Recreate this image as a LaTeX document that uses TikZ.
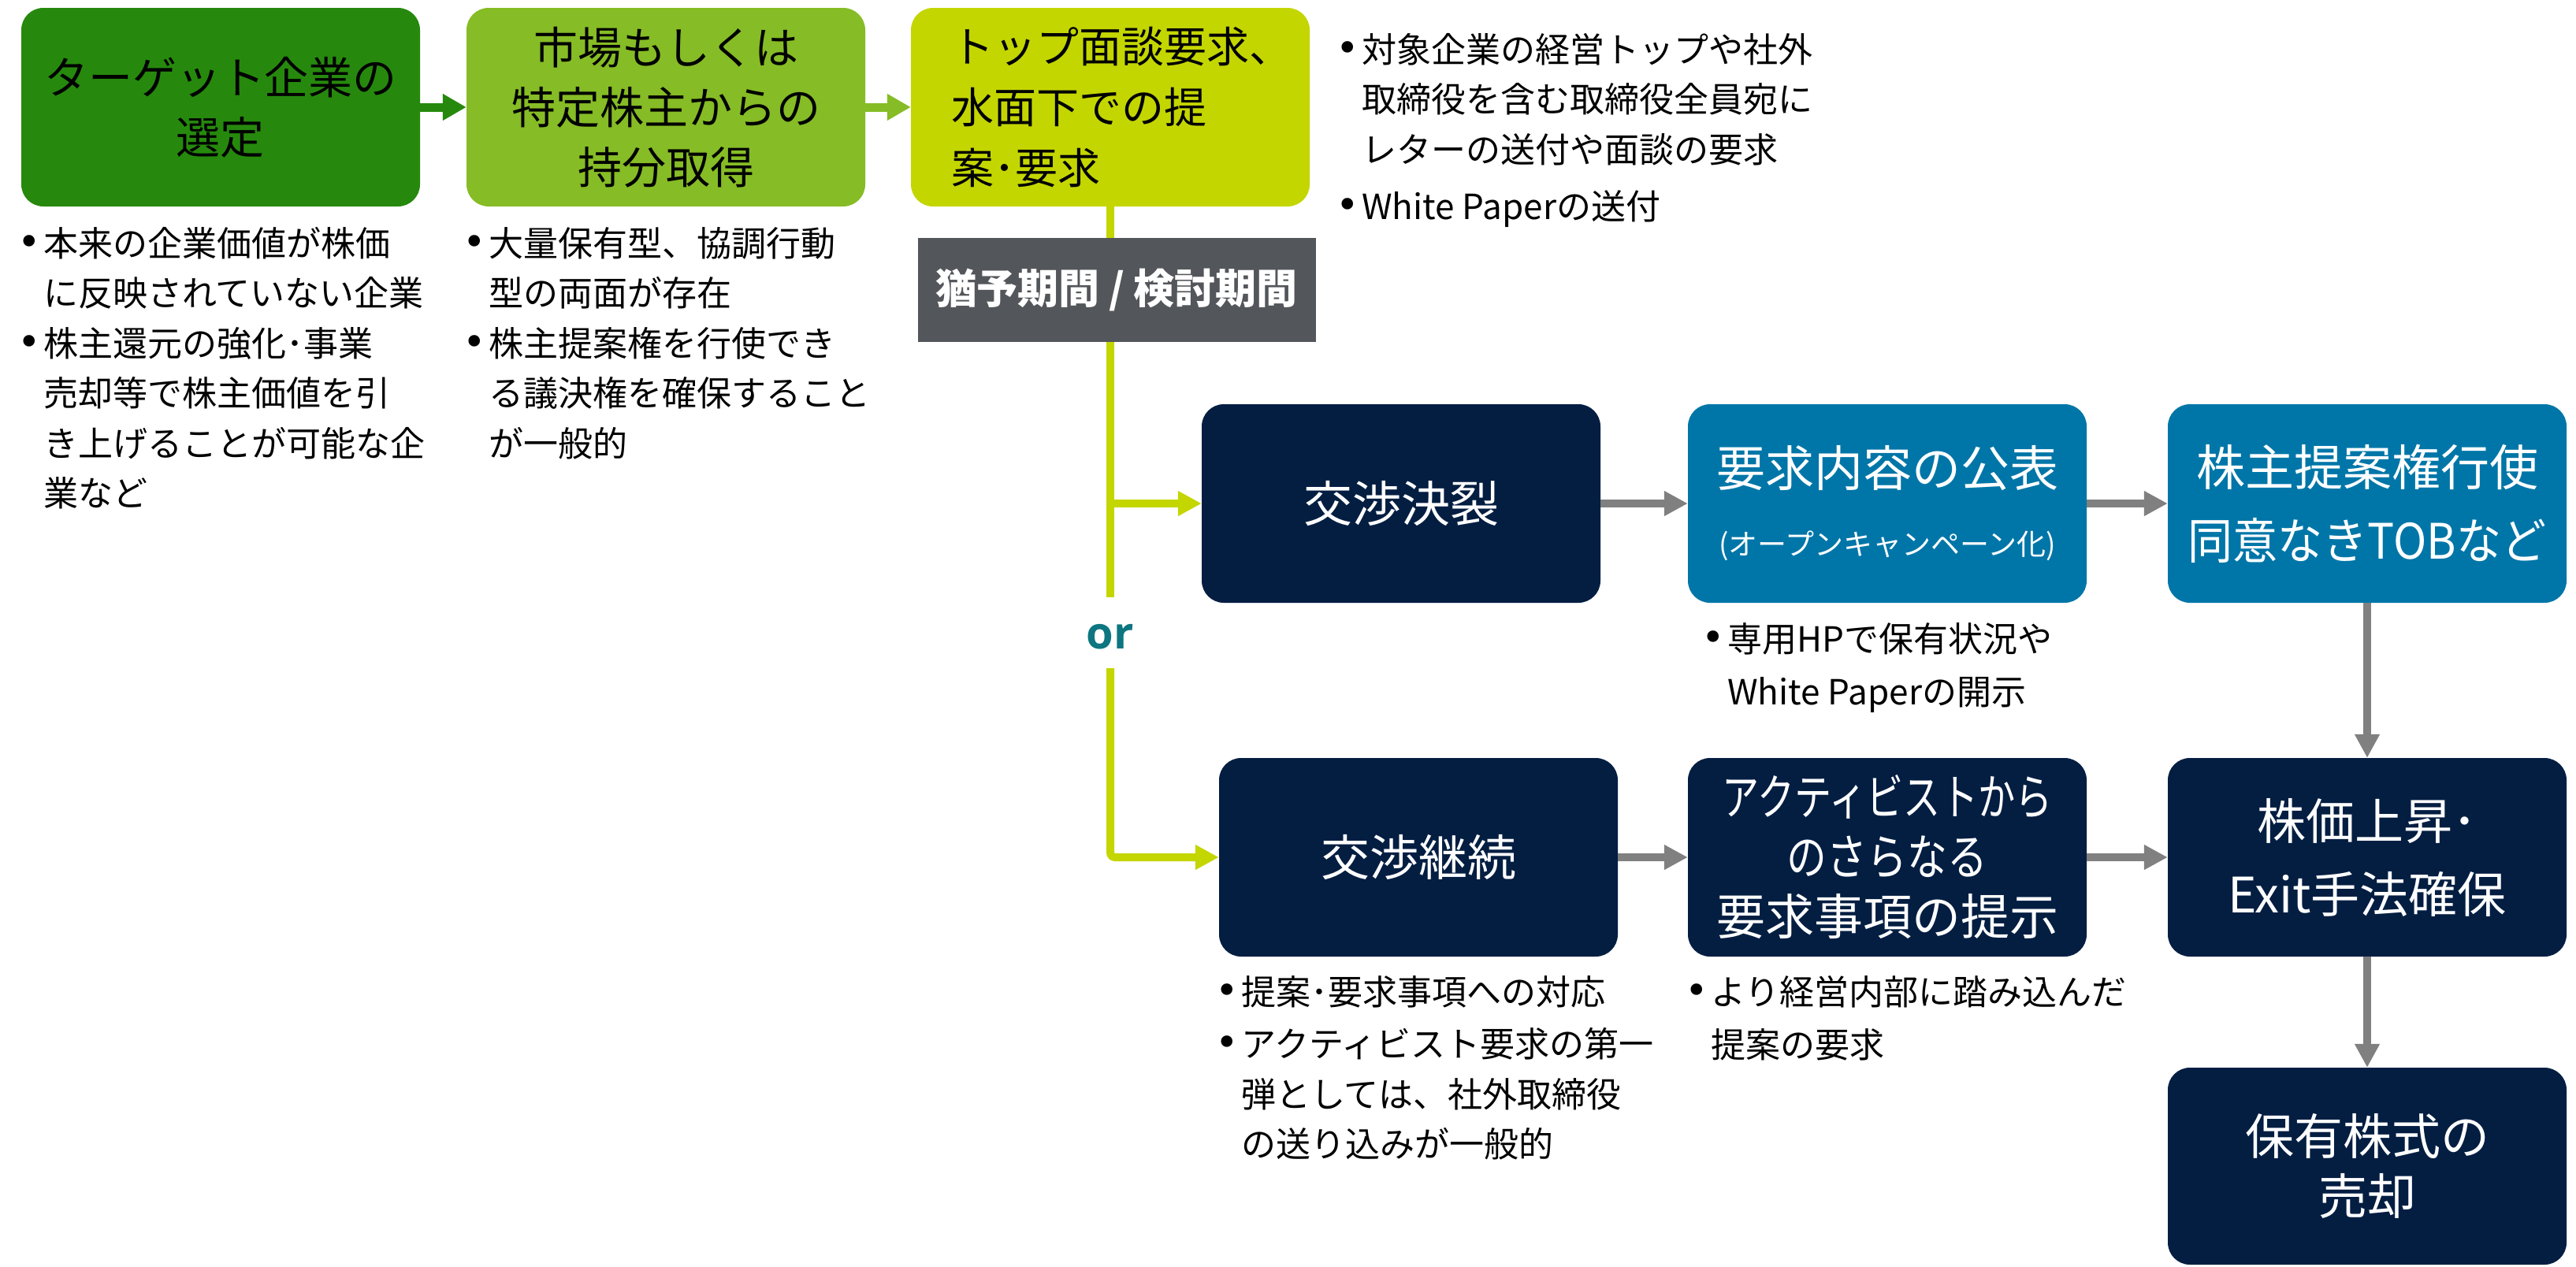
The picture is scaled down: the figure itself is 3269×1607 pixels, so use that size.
\documentclass[tikz,border=0pt]{standalone}
\usepackage{fontspec}
\usepackage{graphicx}
\setmainfont{Noto Sans CJK JP}
\newfontfamily\bulfont{DejaVu Sans}
\newfontfamily\orfont{Open Sans}
\usetikzlibrary{arrows.meta,backgrounds}
\definecolor{dgreen}{HTML}{26890D}
\definecolor{lgreen}{HTML}{86BC25}
\definecolor{ygreen}{HTML}{C4D600}
\definecolor{slategray}{HTML}{53565A}
\definecolor{navy}{HTML}{041E42}
\definecolor{dblue}{HTML}{0076A8}
\definecolor{arrgray}{HTML}{808080}
\definecolor{orteal}{HTML}{0D7680}
\newcommand{\bl}{\llap{\makebox[36pt][c]{\bulfont\fontsize{50}{50}\selectfont\raisebox{1pt}{•}}}}
\tikzset{
  box/.style={rounded corners=28pt, minimum width=506pt, minimum height=252pt,
    inner sep=0pt, align=center, text=white, font=\fontsize{62}{93}\selectfont},
  topbox/.style={box, text=black, font=\fontsize{56}{76}\selectfont},
  navybox/.style={box, fill=navy},
  bluebox/.style={box, fill=dblue},
  bullets/.style={anchor=base west, inner sep=0pt, text=black, font=\fontsize{44}{63.5}\selectfont},
  grayarrow/.style={draw=arrgray, line width=10pt, -{Triangle[length=30pt,width=30pt]}},
  greenline/.style={draw=ygreen, line width=10pt},
  greenarrow/.style={greenline, -{Triangle[length=30pt,width=30pt]}},
  toparrow/.style={line width=11pt, -{Triangle[length=30pt,width=32pt]}},
}
\begin{document}
\begin{tikzpicture}[x=1pt,y=-1pt]
\useasboundingbox (0,0) rectangle (3269,1607);

% top row
\node[topbox, fill=dgreen] (b1) at (280,136) {ターゲット企業の\\選定};
\node[topbox, fill=lgreen] (b2) at (845,136) {市場もしくは\\特定株主からの\\持分取得};
\node[topbox, fill=ygreen] (b3) at (1409,136) {};
\node[anchor=west, inner sep=0pt, align=left, text=black, font=\fontsize{54}{77}\selectfont]
  (b3t) at ([xshift=51pt]b3.west) {トップ面談要求、\\水面下での提\\案･要求};

\draw[toparrow, draw=dgreen] (b1.east) -- (b2.west);
\draw[toparrow, draw=lgreen] (b2.east) -- (b3.west);

% grey period box
\node[fill=slategray, minimum width=505pt, minimum height=132pt, inner sep=0pt,
  text=white, font=\bfseries\fontsize{52}{60}\selectfont] (grace) at (1417,368) {猶予期間 / 検討期間};

% or
\node[anchor=base, inner sep=0pt, text=orteal, font=\orfont\bfseries\fontsize{56}{60}\selectfont] (or) at (1409,823) {or};
\coordinate (ortop) at (1409,758);
\coordinate (orbot) at (1409,848);

% middle row
\node[navybox] (k1) at (1778,639) {交渉決裂};
\node[bluebox] (k2) at (2395,639) {要求内容の公表\\[-6pt]{\fontsize{37}{44}\selectfont (オープンキャンペーン化)}};
\node[bluebox] (k3) at (3004,639) {株主提案権行使\\\scalebox{0.92}[1]{同意なきTOBなど}};

% lower rows
\node[navybox] (l1) at (1800,1088) {交渉継続};
\node[navybox, font=\fontsize{62}{76}\selectfont] (l2) at (2395,1088)
  {\scalebox{0.76}[1]{アクティビストから}\\\scalebox{0.82}[1]{のさらなる}\\要求事項の提示};
\node[navybox] (l3) at (3004,1088) {株価上昇･\\Exit手法確保};
\node[navybox, minimum height=250pt, font=\fontsize{62}{76}\selectfont] (l4) at (3004,1480) {保有株式の\\売却};

% arrows
\draw[grayarrow] (k1.east) -- (k2.west);
\draw[grayarrow] (k2.east) -- (k3.west);
\draw[grayarrow] (l1.east) -- (l2.west);
\draw[grayarrow] (l2.east) -- (l3.west);
\draw[grayarrow] (k3.south) -- (l3.north);
\draw[grayarrow] (l3.south) -- (l4.north);

% bullet texts
\node[bullets] (n1) at (55,325) {\begin{tabular}[t]{@{}l@{}}
\bl 本来の企業価値が株価\\
に反映されていない企業\\
\bl 株主還元の強化･事業\\
売却等で株主価値を引\\
き上げることが可能な企\\
業など\end{tabular}};
\node[bullets] (n2) at (620,325) {\begin{tabular}[t]{@{}l@{}}
\bl 大量保有型、協調行動\\
型の両面が存在\\
\bl 株主提案権を行使でき\\
る議決権を確保すること\\
が一般的\end{tabular}};
\node[bullets] (n3) at (1728,79) {\begin{tabular}[t]{@{}l@{}}
\bl 対象企業の経営トップや社外\\
取締役を含む取締役全員宛に\\
レターの送付や面談の要求\\[9pt]
\bl White Paperの送付\end{tabular}};
\node[bullets] (n4) at (2192,827) {\begin{tabular}[t]{@{}l@{}}
\bl 専用HPで保有状況や\\[3.5pt]
White Paperの開示\end{tabular}};
\node[bullets] (n5) at (1575,1275) {\begin{tabular}[t]{@{}l@{}}
\bl 提案･要求事項への対応\\[3pt]
\bl アクティビスト要求の第一\\
弾としては、社外取締役\\
の送り込みが一般的\end{tabular}};
\node[bullets] (n6) at (2171,1275) {\begin{tabular}[t]{@{}l@{}}
\bl より経営内部に踏み込んだ\\[3.5pt]
提案の要求\end{tabular}};

% green connectors behind the grey box
\begin{scope}[on background layer]
\fill[white] (0,0) rectangle (3269,1607);
\draw[greenline] (b3.south) -- (ortop);
\draw[greenarrow] (b3.south |- k1.west) -- (k1.west);
\draw[greenarrow, rounded corners=6pt] (orbot) -- (orbot |- l1.west) -- (l1.west);
\end{scope}
\end{tikzpicture}
\end{document}
